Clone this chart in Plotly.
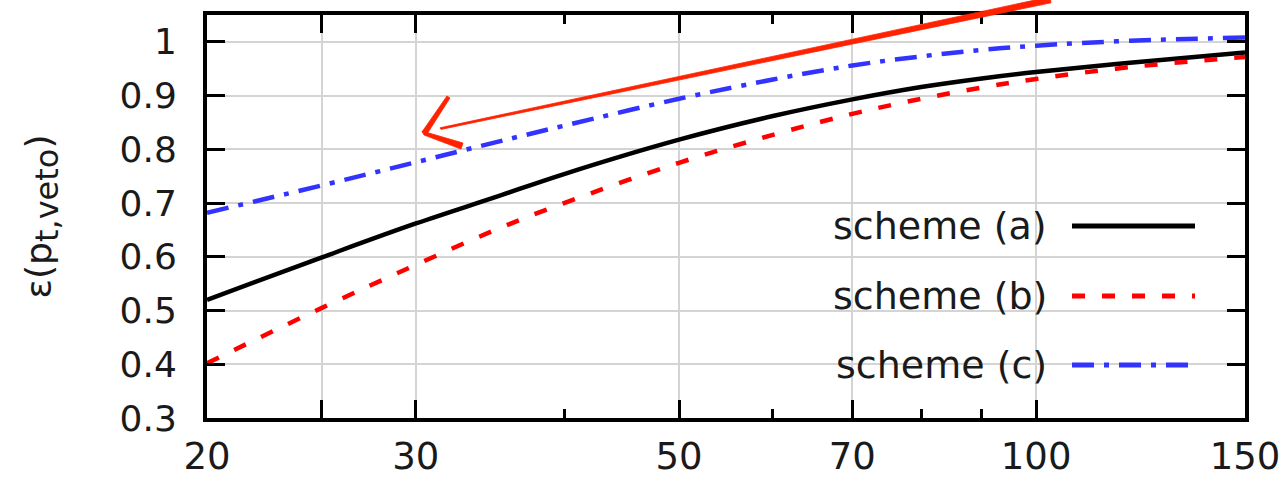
import plotly.graph_objects as go

# ---- data ----
pt_veto = [20, 25, 30, 35, 40, 50, 60, 70, 80, 90, 100, 120, 150]
eff_a = [0.520, 0.599, 0.662, 0.711, 0.754, 0.818, 0.862, 0.893, 0.916, 0.932, 0.944, 0.961, 0.980]
eff_b = [0.402, 0.505, 0.585, 0.650, 0.700, 0.775, 0.827, 0.866, 0.894, 0.915, 0.931, 0.953, 0.972]
eff_c = [0.682, 0.733, 0.776, 0.813, 0.844, 0.894, 0.930, 0.956, 0.973, 0.985, 0.993, 1.002, 1.008]
series_names = ["scheme (a)", "scheme (b)", "scheme (c)"]
x_major = [20, 25, 30, 50, 70, 100, 150]
x_major_text = ["20", "", "30", "50", "70", "100", "150"]
x_minor = [40, 60, 80, 90]
y_ticks = [0.3, 0.4, 0.5, 0.6, 0.7, 0.8, 0.9, 1.0]
y_tick_text = ["0.3", "0.4", "0.5", "0.6", "0.7", "0.8", "0.9", "1"]

W, H = 1286, 481
ML, MR, MT, MB = 207, 41, 15, 63
PW, PH = W - ML - MR, H - MT - MB

def px(x):  # pixel -> paper
    return (x - ML) / PW
def py(y):
    return (H - MB - y) / PH

FONT = "DejaVu Sans"
TXT = "#1a1a1a"
colors = ["black", "#ff0000", "#3333ff"]
dashes = ["solid", "13px,17px", "22px,10px,5px,10px"]
widths = [4.5, 4.5, 4.5]

fig = go.Figure()
for name, ys, c, d, w in zip(series_names, [eff_a, eff_b, eff_c], colors, dashes, widths):
    fig.add_trace(go.Scatter(x=pt_veto, y=ys, mode="lines", name=name,
                             line=dict(color=c, dash=d, width=w, shape="spline", smoothing=1.0),
                             showlegend=False))

fig.update_layout(
    width=W, height=H,
    margin=dict(l=ML, r=MR, t=MT, b=MB, pad=0, autoexpand=False),
    paper_bgcolor="white", plot_bgcolor="white",
    font=dict(family=FONT, size=36, color=TXT),
)
fig.update_xaxes(
    type="log", range=[1.30103, 2.176091], automargin=False,
    tickmode="array", tickvals=x_major, ticktext=x_major_text,
    ticks="inside", ticklen=18, tickwidth=3, tickcolor="black",
    showgrid=True, gridcolor="#d4d4d4", gridwidth=1.5,
    showline=True, linewidth=4, linecolor="black", mirror="ticks",
    zeroline=False, tickfont=dict(size=37), ticklabelstandoff=3,
    minor=dict(tickmode="array", tickvals=x_minor, ticks="inside", ticklen=9,
               tickwidth=3, tickcolor="black", showgrid=False),
)
fig.update_yaxes(
    range=[0.3, 1.05], automargin=False,
    tickmode="array", tickvals=y_ticks, ticktext=y_tick_text,
    ticks="inside", ticklen=18, tickwidth=3, tickcolor="black",
    showgrid=True, gridcolor="#d4d4d4", gridwidth=1.5,
    showline=True, linewidth=4, linecolor="black", mirror="ticks",
    zeroline=False, tickfont=dict(size=36), ticklabelstandoff=19,
    title=dict(text="ε(p<sub><span style=\"font-size:32px\">t,veto</span></sub>)",
               font=dict(size=36), standoff=58),
)

shapes = []
# legend box (hides grid)
shapes.append(dict(type="rect", xref="paper", yref="paper", layer="between",
                   x0=px(797), x1=px(1224), y0=py(416), y1=py(190),
                   fillcolor="white", line=dict(width=0)))
legend_rows = [226, 296, 365]
for name, c, d, w, yy in zip(series_names, colors, dashes, widths, legend_rows):
    fig.add_annotation(x=px(1049), y=py(yy), xref="paper", yref="paper",
                       text=name, showarrow=False, xanchor="right", yanchor="middle",
                       font=dict(size=38, color=TXT))
    shapes.append(dict(type="line", xref="paper", yref="paper", layer="above",
                       x0=px(1072), x1=px(1195), y0=py(yy), y1=py(yy),
                       line=dict(color=c, dash=d, width=w + 0.5)))

# hand-drawn red arrow
RED = "#ff2200"
def poly(pts):
    return "M " + " L ".join(f"{px(a):.5f},{py(b):.5f}" for a, b in pts) + " Z"
shaft = [(440, 127.8), (1050, -3.2), (1051, 2.8), (441, 129.4)]
barb1 = [(422, 132), (447, 96), (450, 98), (427, 134)]
barb2 = [(422, 131), (463, 143), (461, 149), (424, 135)]
for p in (shaft, barb1, barb2):
    shapes.append(dict(type="path", xref="paper", yref="paper", layer="above",
                       path=poly(p), fillcolor=RED, line=dict(color=RED, width=0.8)))

fig.update_layout(shapes=shapes)
fig.write_html("out.html")
